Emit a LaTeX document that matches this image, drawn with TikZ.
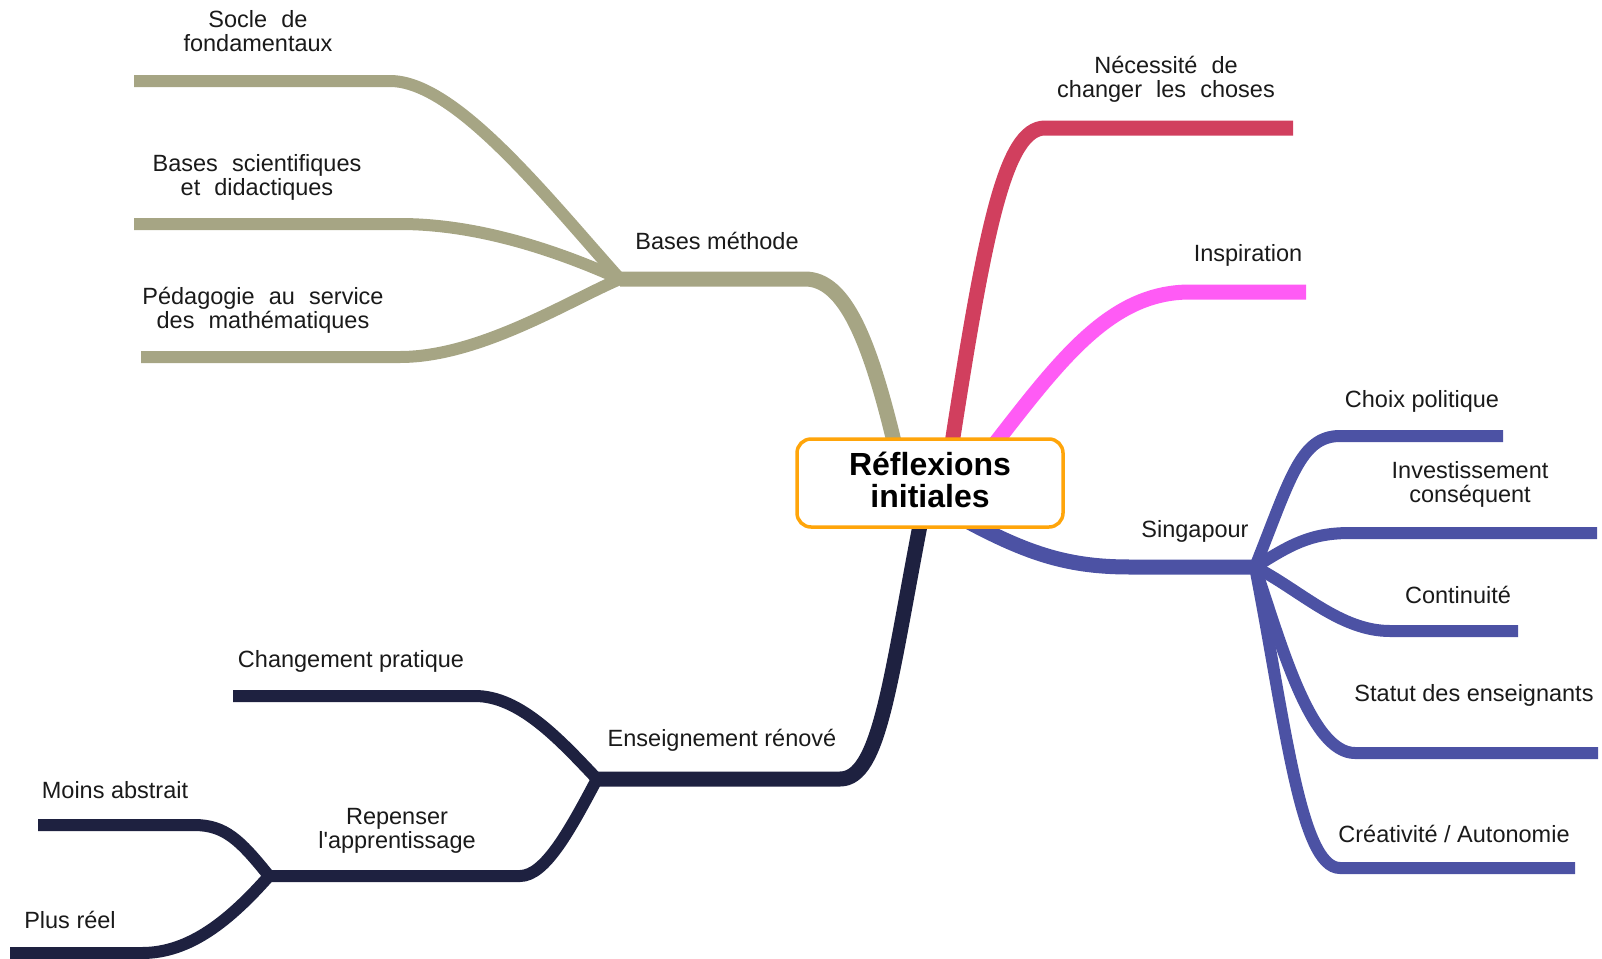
\documentclass[tikz,border=0pt]{standalone}
\usepackage{fontspec}
\setmainfont{Liberation Sans}
\usetikzlibrary{backgrounds}
\definecolor{khaki}{HTML}{A6A584}
\definecolor{rouge}{HTML}{D13F5E}
\definecolor{magen}{HTML}{FF5BF5}
\definecolor{navy}{HTML}{1E2140}
\definecolor{bleu}{HTML}{4C52A4}
\definecolor{borange}{HTML}{FFA50A}
\definecolor{txt}{HTML}{1A1A1A}
\newcommand{\wsp}{\hspace{0.6em}}
\begin{document}
\begin{tikzpicture}[x=1pt,y=-1pt,
  lbl/.style={font=\fontsize{23.5}{24}\selectfont, text=txt, align=center, anchor=base, inner sep=0pt},
  mainbr/.style={line width=15pt},
  subbr/.style={line width=12pt},
  rootbox/.style={draw=borange, line width=3.5pt, rounded corners=14pt, fill=white,
    minimum width=266pt, minimum height=88pt, align=center, inner sep=0pt,
    font=\bfseries\fontsize{32}{32.5}\selectfont}]
\useasboundingbox (0,0) rectangle (1602,958);

% central node
\node[rootbox] (root) at (930,483) {Réflexions\\initiales\rule[-6pt]{0pt}{6pt}};

% hubs and anchors
\coordinate (k0) at (896,450);
\coordinate (khub) at (620,279);
\coordinate (r0) at (951,450);
\coordinate (m0) at (990,450);
\coordinate (n0) at (922,515);
\coordinate (nhub) at (597,779);
\coordinate (rhub) at (269,876);
\coordinate (b0) at (965,520);
\coordinate (shub) at (1255,567);

% leaf ends
\coordinate (e-socle) at (134,81);
\coordinate (e-bsci) at (134,224);
\coordinate (e-peda) at (141,357);
\coordinate (e-nec) at (1293,128);
\coordinate (e-insp) at (1306,292);
\coordinate (e-choix) at (1503,436);
\coordinate (e-inv) at (1597,533);
\coordinate (e-cont) at (1518,631);
\coordinate (e-stat) at (1598,753);
\coordinate (e-crea) at (1575,868);
\coordinate (e-chg) at (233,696);
\coordinate (e-moins) at (38,825);
\coordinate (e-plus) at (10,953);

\begin{scope}[on background layer]
% khaki
\draw[khaki, mainbr] (k0) .. controls (870,340) and (845,279) .. (805,279) -- (khub);
\draw[khaki, subbr] (khub) .. controls (545,195) and (455,81) .. (390,81) -- (e-socle);
\draw[khaki, subbr] (khub) .. controls (560,252) and (480,224) .. (400,224) -- (e-bsci);
\draw[khaki, subbr] (khub) .. controls (570,300) and (480,357) .. (400,357) -- (e-peda);
% red
\draw[rouge, mainbr] (r0) .. controls (985,230) and (1005,128) .. (1045,128) -- (e-nec);
% magenta
\draw[magen, mainbr] (m0) .. controls (1060,360) and (1110,292) .. (1190,292) -- (e-insp);
% navy
\draw[navy, mainbr] (n0) .. controls (890,680) and (880,779) .. (840,779) -- (nhub);
\draw[navy, subbr] (nhub) .. controls (560,740) and (520,696) .. (475,696) -- (e-chg);
\draw[navy, subbr] (nhub) .. controls (570,830) and (545,876) .. (520,876) -- (rhub);
\draw[navy, subbr] (rhub) .. controls (240,840) and (225,825) .. (194,825) -- (e-moins);
\draw[navy, subbr] (rhub) .. controls (230,920) and (190,953) .. (142,953) -- (e-plus);
% blue
\draw[bleu, mainbr] (b0) .. controls (1030,555) and (1070,567) .. (1130,567) -- (shub);
\draw[bleu, subbr] (shub) .. controls (1290,480) and (1300,436) .. (1340,436) -- (e-choix);
\draw[bleu, subbr] (shub) .. controls (1290,545) and (1310,533) .. (1350,533) -- (e-inv);
\draw[bleu, subbr] (shub) .. controls (1300,590) and (1340,631) .. (1390,631) -- (e-cont);
\draw[bleu, subbr] (shub) .. controls (1280,640) and (1310,753) .. (1355,753) -- (e-stat);
\draw[bleu, subbr] (shub) .. controls (1285,720) and (1300,868) .. (1340,868) -- (e-crea);
\end{scope}

% labels
\node[lbl] (l-bm) at (717,249) {Bases méthode};
\node[lbl] (l-socle) at (258,52) {Socle\wsp de\\fondamentaux};
\node[lbl] (l-bsci) at (257,195) {Bases\wsp scientifiques\\et\wsp didactiques};
\node[lbl] (l-peda) at (263,328) {Pédagogie\wsp au\wsp service\\des\wsp mathématiques};
\node[lbl] (l-nec) at (1166,97) {Nécessité\wsp de\\changer\wsp les\wsp choses};
\node[lbl] (l-insp) at (1248,261) {Inspiration};
\node[lbl] (l-sing) at (1195,537) {Singapour};
\node[lbl] (l-choix) at (1422,407) {Choix politique};
\node[lbl] (l-inv) at (1470,502) {Investissement\\conséquent};
\node[lbl] (l-cont) at (1458,603) {Continuité};
\node[lbl] (l-stat) at (1474,701) {Statut des enseignants};
\node[lbl] (l-crea) at (1454,842) {Créativité / Autonomie};
\node[lbl] (l-ens) at (722,746) {Enseignement rénové};
\node[lbl] (l-chg) at (351,667) {Changement pratique};
\node[lbl] (l-rep) at (397,848) {Repenser\\l\textquotesingle apprentissage};
\node[lbl] (l-moins) at (115,798) {Moins abstrait};
\node[lbl] (l-plus) at (70,928) {Plus réel};
\end{tikzpicture}
\end{document}
